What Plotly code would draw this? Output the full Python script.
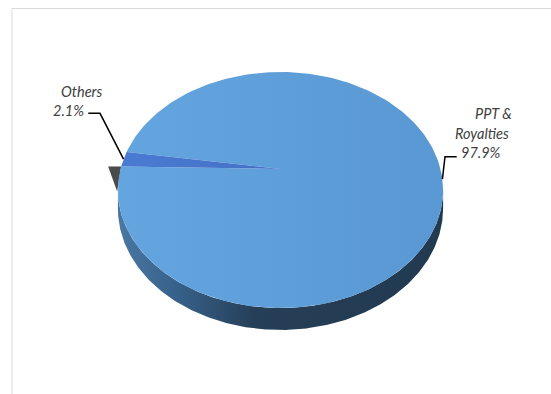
import numpy as np
import plotly.graph_objects as go

# Revenue shares (percent)
categories = ["PPT & Royalties", "Others"]
shares = [97.9, 2.1]

# --- pie geometry (pixel space of a 551x394 canvas) ---
W, H = 551, 394
CX, CY = 280.5, 169.0      # projected pie centre
R, B = 160.0, 114.3        # horizontal / vertical radius of the disc
K = 0.178                  # perspective strength (far side smaller)
DEPTH = 18.0               # disc thickness
START = 171.2              # angle (deg, counter-clockwise from +x) where the first slice begins

top_colors = {
    "PPT & Royalties": [[0, "#64a5e0"], [1, "#5998d2"]],
    "Others": [[0, "#4a7bd2"], [1, "#4471c6"]],
}
side_scale = [[0, "#4a78a3"], [0.18, "#37618a"], [0.42, "#263f58"], [1, "#213a50"]]


def proj(theta_deg, depth=0.0):
    t = np.radians(theta_deg)
    u, v = np.cos(t), np.sin(t)
    w = 1 + K * v
    return CX + R * u / w, CY - B * v / w + depth / w


def arc(a0, a1, depth=0.0, n=240):
    th = np.linspace(a0, a1, n)
    return proj(th, depth)


fig = go.Figure()

# side wall (front half, between the left and right silhouette points)
theta_l = 180 + np.degrees(np.arcsin(K))
theta_r = 360 - np.degrees(np.arcsin(K))
xt, yt = arc(theta_l, theta_r)
xb, yb = arc(theta_r, theta_l, DEPTH)
fig.add_trace(go.Scatter(
    x=np.concatenate([xt, xb, xt[:1]]), y=np.concatenate([yt, yb, yt[:1]]),
    mode="lines", fill="toself", line=dict(width=0),
    fillgradient=dict(type="horizontal", colorscale=side_scale),
    hoverinfo="skip", showlegend=False))

# slice angles (clockwise from START)
spans = [s / sum(shares) * 360 for s in shares]
bounds = [START]
for sp in spans:
    bounds.append(bounds[-1] - sp)

# exposed radial wall where the small slice meets the large one
ox, oy = proj(bounds[1])
wall_dx = [0, -13, -4, 0]
wall_dy = [0, 0, 25, 0]
fig.add_trace(go.Scatter(
    x=[ox + d for d in wall_dx], y=[oy + d for d in wall_dy],
    mode="lines", fill="toself", line=dict(width=0), fillcolor="#4b4b4b",
    hoverinfo="skip", showlegend=False))

# top faces
for cat, a0, a1 in zip(categories, bounds[:-1], bounds[1:]):
    ax_, ay_ = arc(a0, a1)
    fig.add_trace(go.Scatter(
        x=np.concatenate([[CX], ax_, [CX]]), y=np.concatenate([[CY], ay_, [CY]]),
        mode="lines", fill="toself", line=dict(width=0),
        fillgradient=dict(type="horizontal", colorscale=top_colors[cat]),
        hoverinfo="skip", showlegend=False, name=cat))

# labels with leader lines
label_font = dict(family="Lato", size=14.5, color="#404040")
mids = [(a0 + a1) / 2 for a0, a1 in zip(bounds[:-1], bounds[1:])]

# PPT & Royalties (right)
ex, ey = proj(mids[0])
fig.add_trace(go.Scatter(x=[456.7, 445, ex], y=[156.7, 156.7, ey], mode="lines",
                         line=dict(color="black", width=1.5), hoverinfo="skip", showlegend=False))
name0 = categories[0].split(" & ")
for txt, x, y in [(name0[0] + " &", 493, 113), (name0[1], 481.5, 133), (f"{shares[0]:.1f}%", 481, 152)]:
    fig.add_annotation(x=x, y=y, text=f"<i>{txt}</i>", showarrow=False, font=label_font,
                       xanchor="center", yanchor="middle")

# Others (left)
ex, ey = proj(mids[1])
fig.add_trace(go.Scatter(x=[88.3, 100, ex], y=[113.3, 113.3, ey], mode="lines",
                         line=dict(color="black", width=1.5), hoverinfo="skip", showlegend=False))
for txt, x, y in [(categories[1], 81, 91), (f"{shares[1]:.1f}%", 68, 110)]:
    fig.add_annotation(x=x, y=y, text=f"<i>{txt}</i>", showarrow=False, font=label_font,
                       xanchor="center", yanchor="middle")

# chart frame
fig.add_shape(type="rect", x0=12, y0=8.5, x1=W + 20, y1=H + 20,
              line=dict(color="#d9d9d9", width=1), layer="below")

fig.update_layout(
    width=W, height=H, margin=dict(l=0, r=0, t=0, b=0),
    paper_bgcolor="white", plot_bgcolor="white",
    xaxis=dict(range=[0, W], visible=False, fixedrange=True),
    yaxis=dict(range=[H, 0], visible=False, fixedrange=True),
)

fig.write_html("out.html")
